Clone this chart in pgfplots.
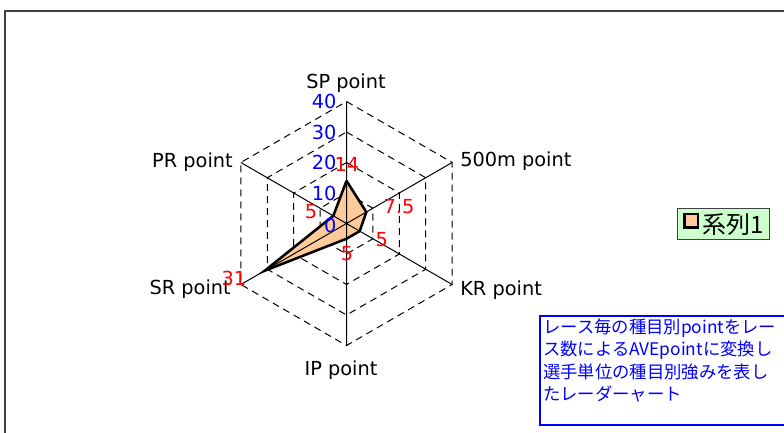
\documentclass[border=0pt]{standalone}
\usepackage{fontspec}
\setmainfont{Noto Sans CJK JP}
\newfontfamily\dejavu{DejaVu Sans}
\usepackage{pgfplots}
\pgfplotsset{compat=1.18}
\definecolor{peach}{HTML}{FFCC99}
\definecolor{lgreen}{HTML}{CCFFCC}
\definecolor{framegray}{HTML}{404040}
\newcommand{\catfont}{\dejavu\fontsize{14.5pt}{16pt}\selectfont}
\newcommand{\numfont}{\dejavu\fontsize{14.5pt}{16pt}\selectfont}
\newcommand{\legfont}{\fontsize{18pt}{20pt}\selectfont}
\newcommand{\boxfont}{\fontsize{13pt}{16pt}\selectfont}
\begin{document}
\begin{tikzpicture}
\path[use as bounding box] (0,0) rectangle (588pt,324pt);
\clip (0,0) rectangle (588pt,324pt);
\begin{scope}[x=0.75pt,y=0.75pt]
  % chart frame
  \draw[framegray, line width=1.5pt] (5,-20) -- (5,421) -- (800,421);
  % text box
  \draw[blue, line width=1.5pt] (540,7) rectangle (800,116);
  \node[blue, anchor=base west, inner sep=0pt, font=\boxfont] at (543,98.5) {レース毎の種目別pointをレー};
  \node[blue, anchor=base west, inner sep=0pt, font=\boxfont] at (543,76.5) {ス数によるAVEpointに変換し};
  \node[blue, anchor=base west, inner sep=0pt, font=\boxfont] at (543,54) {選手単位の種目別強みを表し};
  \node[blue, anchor=base west, inner sep=0pt, font=\boxfont] at (543,32) {たレーダーャート};
  % category labels
  \node[anchor=base, inner sep=0pt, font=\catfont] at (346,343.7) {SP point};
  \node[anchor=base west, inner sep=0pt, font=\catfont] at (460,265.3) {500m point};
  \node[anchor=base west, inner sep=0pt, font=\catfont] at (460,137) {KR point};
  \node[anchor=base, inner sep=0pt, font=\catfont] at (341,57) {IP point};
  \node[anchor=base east, inner sep=0pt, font=\catfont] at (231,138) {SR point};
  \node[anchor=base east, inner sep=0pt, font=\catfont] at (233,264) {PR point};
\end{scope}
\begin{axis}[
  at={(259.875pt,156.375pt)}, anchor=origin,
  x=2.2875pt, y=2.2875pt,
  xmin=-45, xmax=45, ymin=-45, ymax=45,
  hide axis, clip=false,
  legend style={at={(1.7051,0.5554)}, anchor=north west, fill=lgreen,
    draw=framegray, line width=0.75pt, font=\legfont,
    inner xsep=2.5pt, inner ysep=1.5pt},
]
% grid rings
\addplot[forget plot, line width=0.75pt, dash pattern=on 5.25pt off 3.75pt, data cs=polar]
  coordinates {(90,10)(30,10)(-30,10)(-90,10)(-150,10)(150,10)(90,10)};
\addplot[forget plot, line width=0.75pt, dash pattern=on 5.25pt off 3.75pt, data cs=polar]
  coordinates {(90,20)(30,20)(-30,20)(-90,20)(-150,20)(150,20)(90,20)};
\addplot[forget plot, line width=0.75pt, dash pattern=on 5.25pt off 3.75pt, data cs=polar]
  coordinates {(90,30)(30,30)(-30,30)(-90,30)(-150,30)(150,30)(90,30)};
\addplot[forget plot, line width=0.75pt, dash pattern=on 5.25pt off 3.75pt, data cs=polar]
  coordinates {(90,40)(30,40)(-30,40)(-90,40)(-150,40)(150,40)(90,40)};
% series
\addplot[fill=peach, draw=black, line width=1.9pt, data cs=polar,
  legend image code/.code={\path[draw=none,fill=none] (0pt,0pt) rectangle (14pt,1pt);
    \draw[fill=peach,draw=black,line width=1.8pt] (2.5pt,-2.2pt) rectangle (12.5pt,7.8pt);}]
  coordinates {(90,14)(30,7.5)(-30,5)(-90,5)(-150,31)(150,5)(90,14)};
\addlegendentry{系列1}
% spokes
\addplot[forget plot, line width=0.75pt, data cs=polar]
  coordinates {(90,40)(0,0)(30,40)(0,0)(-30,40)(0,0)(-90,40)(0,0)(-150,40)(0,0)(150,40)};
% radial tick labels
\node[blue, anchor=east, inner sep=0pt, font=\numfont] at (axis cs:-3.2,40) {40};
\node[blue, anchor=east, inner sep=0pt, font=\numfont] at (axis cs:-3.2,30) {30};
\node[blue, anchor=east, inner sep=0pt, font=\numfont] at (axis cs:-3.2,20) {20};
\node[blue, anchor=east, inner sep=0pt, font=\numfont] at (axis cs:-3.2,10) {10};
\node[blue, anchor=east, inner sep=0pt, font=\numfont] at (axis cs:-3.2,-0.5) {0};
% data labels
\node[red, inner sep=0pt, font=\numfont] at (axis cs:0.16,19.2) {14};
\node[red, inner sep=0pt, font=\numfont] at (axis cs:17.2,5.7) {7.5};
\node[red, inner sep=0pt, font=\numfont] at (axis cs:11.6,-5.2) {5};
\node[red, inner sep=0pt, font=\numfont] at (axis cs:0.16,-9.8) {5};
\node[red, inner sep=0pt, font=\numfont] at (axis cs:-36.9,-18.0) {31};
\node[red, inner sep=0pt, font=\numfont] at (axis cs:-11.6,3.9) {5};
\end{axis}
\end{tikzpicture}
\end{document}
